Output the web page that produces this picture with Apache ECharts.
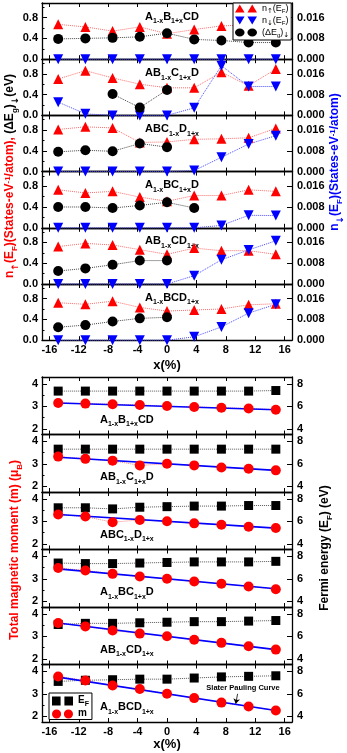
<!DOCTYPE html>
<html>
<head>
<meta charset="utf-8">
<script src="https://cdn.jsdelivr.net/npm/echarts@6/dist/echarts.min.js"></script>
<style>
  html, body { margin: 0; padding: 0; background: #fff; }
  #chart { width: 347px; height: 753px; }
</style>
</head>
<body>
<div id="chart"></div>
<script>
// x positions (%) shared by every panel
const xs = [-14.8, -11.1, -7.4, -3.7, 0, 3.7, 7.4, 11.1, 14.8];
const xTickValues = [-16, -12, -8, -4, 0, 4, 8, 12, 16];

const compounds = [
  '{b|A}{s|1-x}{b|B}{s|1+x}{b|CD}',
  '{b|AB}{s|1-x}{b|C}{s|1+x}{b|D}',
  '{b|ABC}{s|1-x}{b|D}{s|1+x}',
  '{b|A}{s|1-x}{b|BC}{s|1+x}{b|D}',
  '{b|AB}{s|1-x}{b|CD}{s|1+x}',
  '{b|A}{s|1-x}{b|BCD}{s|1+x}'
];

// top block: n_up(EF), n_down(EF), (dEg)_down
const nUp = [
  [0.67, 0.62, 0.54, 0.62, 0.49, 0.57, 0.64, 0.66, 0.68],
  [0.70, 0.86, 0.72, 0.60, 0.53, 0.53, 0.83, 0.57, 0.89],
  [0.81, 0.86, 0.84, 0.56, 0.57, 0.62, 0.63, 0.65, 0.83],
  [0.73, 0.67, 0.70, 0.59, 0.51, 0.62, 0.62, 0.73, 0.70],
  [0.72, 0.78, 0.75, 0.66, 0.57, 0.69, 0.64, 0.64, 0.57],
  [0.72, 0.69, 0.75, 0.63, 0.56, 0.58, 0.60, 0.68, 0.70]
];
const nDown = [
  [0, 0, 0, 0, 0, 0, 0, 0, 0],
  [0.0051, 0.0006, 0, 0, 0, 0.0029, 0.0191, 0.0111, 0.0111],
  [0, 0, 0, 0, 0, 0.0004, 0.0055, 0.0106, 0.0138],
  [0, 0, 0, 0, 0, 0, 0.0009, 0.0048, 0.0047],
  [0, 0, 0, 0, 0, 0.0032, 0.0093, 0.0131, 0.0166],
  [0, 0, 0, 0, 0, 0.0013, 0.0051, 0.0104, 0.0138]
];
const gapDown = [
  [0.39, 0.40, 0.41, 0.43, 0.50, 0.38, 0.36, 0.32, 0.32],
  [null, null, 0.41, 0.15, 0.49, null, null, null, null],
  [0.38, 0.41, 0.39, 0.54, 0.47, null, null, null, null],
  [0.40, 0.40, 0.38, 0.43, 0.49, 0.38, null, null, null],
  [0.25, 0.30, 0.37, 0.45, 0.45, null, null, null, null],
  [0.25, 0.29, 0.36, 0.42, 0.44, null, null, null, null]
];

// bottom block: Fermi energy (eV), total moment (muB), Slater-Pauling ends
const fermi = [
  [7.35, 7.35, 7.35, 7.35, 7.35, 7.35, 7.35, 7.35, 7.4],
  [7.3, 7.3, 7.3, 7.3, 7.3, 7.3, 7.3, 7.3, 7.3],
  [7.2, 7.2, 7.1, 7.25, 7.3, 7.35, 7.35, 7.4, 7.4],
  [7.4, 7.35, 7.35, 7.4, 7.45, 7.5, 7.5, 7.5, 7.55],
  [7.05, 7.15, 7.15, 7.2, 7.25, 7.3, 7.3, 7.35, 7.4],
  [7.1, 7.2, 7.25, 7.3, 7.3, 7.4, 7.5, 7.55, 7.6]
];
const moment = [
  [3.15, 3.12, 3.09, 3.06, 3.01, 2.97, 2.94, 2.90, 2.85],
  [3.32, 3.22, 3.14, 2.93, 3.00, 2.93, 2.84, 2.78, 2.71],
  [3.30, 3.21, 2.96, 3.06, 3.00, 2.91, 2.85, 2.76, 2.70],
  [3.48, 3.37, 3.22, 3.10, 3.00, 2.88, 2.78, 2.66, 2.54],
  [3.59, 3.44, 3.26, 3.12, 3.00, 2.85, 2.71, 2.56, 2.41],
  [3.77, 3.59, 3.37, 3.21, 3.00, 2.81, 2.61, 2.44, 2.26]
];
const slater = [
  [3.15, 2.85], [3.29, 2.71], [3.30, 2.70],
  [3.44, 2.56], [3.59, 2.41], [3.74, 2.26]
];
const slaterArrow = [[9.6, 3.0], [9.35, 2.56]];

const leftTopLabels = [0, 0.4, 0.8];
const leftTopMinor = [0.2, 0.6, 1.0];
const rightTopLabels = [0, 0.008, 0.016];
const leftBotLabels = [2, 3, 4];
const leftBotMinor = [2.5, 3.5];
const rightBotLabels = [4, 6, 8];

const FONT = '"Liberation Sans", Arial, sans-serif';
const ARROW_FONT = '"DejaVu Sans", sans-serif';
const PL = 42, PW = 250;
const TOP0 = 3, TOPH = 56.2, BOT0 = 377, BOTH = 57.5;

const grids = [], xAxes = [], yAxes = [], series = [];
const tickText = { fontFamily: FONT, fontSize: 11, fontWeight: 'bold', color: '#000' };
const border = { show: true, onZero: false, lineStyle: { color: '#000', width: 1.3 } };

function addGrid(top, height, y, last, nameGap) {
  const g = grids.length;
  grids.push({ left: PL, width: PW, top: top, height: height });
  const xBase = {
    type: 'value', gridIndex: g, min: -17, max: 17,
    axisLine: border, splitLine: { show: false },
    axisTick: { show: true, inside: true, length: 4, customValues: xTickValues, lineStyle: { color: '#000' } }
  };
  xAxes.push(Object.assign({}, xBase, {
    position: 'bottom',
    axisLabel: Object.assign({ show: last, customValues: xTickValues, margin: 4 }, tickText),
    name: last ? 'x(%)' : '', nameLocation: 'middle', nameGap: nameGap,
    nameTextStyle: { fontFamily: FONT, fontSize: 13, fontWeight: 'bold', color: '#000' }
  }));
  xAxes.push(Object.assign({}, xBase, { position: 'top', axisLabel: { show: false } }));

  yAxes.push({
    type: 'value', gridIndex: g, position: 'left', min: y.lmin, max: y.lmax,
    axisLine: border, splitLine: { show: false },
    axisTick: { show: true, inside: true, length: 5, customValues: y.lLab, lineStyle: { color: '#000' } },
    axisLabel: Object.assign({ customValues: y.lLab, margin: 4, formatter: y.lFmt }, tickText)
  });
  yAxes.push({
    type: 'value', gridIndex: g, position: 'right', min: y.rmin, max: y.rmax,
    axisLine: border, splitLine: { show: false },
    axisTick: { show: true, inside: true, length: 5, customValues: y.rLab, lineStyle: { color: '#000' } },
    axisLabel: Object.assign({ customValues: y.rLab, margin: 5, formatter: y.rFmt }, tickText)
  });
  yAxes.push({
    type: 'value', gridIndex: g, position: 'left', min: y.lmin, max: y.lmax,
    axisLine: { show: false, onZero: false }, splitLine: { show: false }, axisLabel: { show: false },
    axisTick: { show: true, inside: true, length: 2.5, customValues: y.lMinor, lineStyle: { color: '#000' } }
  });
  return g;
}

function pts(vals) {
  return xs.map((x, j) => [x, vals[j]]).filter(p => p[1] != null);
}

const topY = {
  lmin: 0, lmax: 1.08, rmin: 0, rmax: 0.0216,
  lLab: leftTopLabels, lMinor: leftTopMinor, rLab: rightTopLabels,
  lFmt: v => v.toFixed(1), rFmt: v => v.toFixed(3)
};
const botY = {
  lmin: 1.75, lmax: 4.3, rmin: 3.5, rmax: 8.6,
  lLab: leftBotLabels, lMinor: leftBotMinor, rLab: rightBotLabels,
  lFmt: v => String(v), rFmt: v => String(v)
};

for (let i = 0; i < 6; i++) {
  const g = addGrid(TOP0 + i * TOPH, TOPH, topY, i === 5, 19);
  series.push({
    name: 'nUp', type: 'line', xAxisIndex: 2 * g, yAxisIndex: 3 * g, data: pts(nUp[i]),
    symbol: 'triangle', symbolSize: 10, clip: false, silent: true,
    itemStyle: { color: '#ff0000' }, lineStyle: { color: '#ff6a6a', width: 1, type: 'dotted' }
  });
  series.push({
    name: 'nDown', type: 'line', xAxisIndex: 2 * g, yAxisIndex: 3 * g + 1, data: pts(nDown[i]),
    symbol: 'triangle', symbolRotate: 180, symbolSize: 10, clip: false, silent: true,
    itemStyle: { color: '#0000ff' }, lineStyle: { color: '#4a4aff', width: 1, type: 'dotted' }
  });
  series.push({
    name: 'gap', type: 'line', xAxisIndex: 2 * g, yAxisIndex: 3 * g, data: pts(gapDown[i]),
    symbol: 'circle', symbolSize: 10, clip: false, silent: true,
    itemStyle: { color: '#000' }, lineStyle: { color: '#444', width: 1, type: 'dotted' }
  });
}

for (let k = 0; k < 6; k++) {
  const g = addGrid(BOT0 + k * BOTH, BOTH, botY, k === 5, 16);
  series.push({
    name: 'EF', type: 'line', xAxisIndex: 2 * g, yAxisIndex: 3 * g + 1, data: pts(fermi[k]),
    symbol: 'rect', symbolSize: 9, clip: false, silent: true,
    itemStyle: { color: '#000' }, lineStyle: { color: '#555', width: 1, type: 'dotted' }
  });
  series.push({
    name: 'm', type: 'line', xAxisIndex: 2 * g, yAxisIndex: 3 * g, data: pts(moment[k]),
    symbol: 'circle', symbolSize: 10, clip: false, silent: true,
    itemStyle: { color: '#ff0000' }, lineStyle: { color: '#ff8080', width: 1, type: 'dotted' }
  });
  const sp = {
    name: 'Slater', type: 'line', xAxisIndex: 2 * g, yAxisIndex: 3 * g, silent: true,
    data: [[xs[0], slater[k][0]], [xs[xs.length - 1], slater[k][1]]],
    symbol: 'none', lineStyle: { color: '#0000ff', width: 1.6 }, z: 3
  };
  if (k === 5) {
    sp.markLine = {
      silent: true, symbol: ['none', 'arrow'], symbolSize: 5, label: { show: false },
      lineStyle: { color: '#000', type: 'solid', width: 0.8 },
      data: [[{ coord: slaterArrow[0] }, { coord: slaterArrow[1] }]]
    };
  }
  series.push(sp);
}

// rich text styles: b = normal, s = subscript, a = subscript arrow, p = superscript
function richSet(color, big, small, weight, lh, pad) {
  const w = weight || 'bold';
  const line = lh || big + 2;
  const drop = pad == null ? Math.round(big * 0.6) : pad;
  return {
    b: { fontFamily: FONT, fontSize: big, fontWeight: w, fill: color, color: color, lineHeight: line, verticalAlign: 'top' },
    s: { fontFamily: FONT, fontSize: small, fontWeight: w, fill: color, color: color, lineHeight: small, padding: [drop, 0, 0, 0], verticalAlign: 'top' },
    a: { fontFamily: ARROW_FONT, fontSize: small + 1, fontWeight: w, fill: color, color: color, lineHeight: small, padding: [drop, 0, 0, 0], verticalAlign: 'top' },
    p: { fontFamily: FONT, fontSize: small, fontWeight: w, fill: color, color: color, lineHeight: small, verticalAlign: 'top' }
  };
}

const elements = [];
for (let i = 0; i < 6; i++) {
  elements.push({
    type: 'text', x: 172, y: TOP0 + i * TOPH + 14.5, silent: true,
    style: { text: compounds[i], rich: richSet('#000', 11, 7), align: 'center', verticalAlign: 'middle' }
  });
  elements.push({
    type: 'text', x: 100, y: BOT0 + i * BOTH + 43.5, silent: true,
    style: { text: compounds[i], rich: richSet('#000', 11, 7), align: 'left', verticalAlign: 'middle' }
  });
}

const blackTitle = richSet('#000', 12, 8);
const titleRich = Object.assign({}, richSet('#ff0000', 12, 8), { k: blackTitle.b, ks: blackTitle.s, ka: blackTitle.a });
elements.push({
  type: 'text', x: 11, y: 176, rotation: Math.PI / 2, silent: true,
  style: {
    text: '{b|n}{a|↑}{b|(E}{s|F}{b|)(States-eV}{p|-1}{b|/atom), }{k|(ΔE}{ks|g}{k|)}{ka|↓}{k|(eV)}',
    rich: titleRich, align: 'center', verticalAlign: 'middle'
  }
});
elements.push({
  type: 'text', x: 336, y: 162, rotation: Math.PI / 2, silent: true,
  style: {
    text: '{b|n}{a|↓}{b|(E}{s|F}{b|)(States-eV}{p|-1}{b|/atom)}',
    rich: richSet('#0000ff', 12, 8), align: 'center', verticalAlign: 'middle'
  }
});
elements.push({
  type: 'text', x: 16, y: 550, rotation: Math.PI / 2, silent: true,
  style: {
    text: '{b|Total magnetic moment (m) (μ}{s|B}{b|)}',
    rich: richSet('#ff0000', 12, 8), align: 'center', verticalAlign: 'middle'
  }
});
elements.push({
  type: 'text', x: 326, y: 548, rotation: Math.PI / 2, silent: true,
  style: {
    text: '{b|Fermi energy (E}{s|F}{b|) (eV)}',
    rich: richSet('#000', 12, 8), align: 'center', verticalAlign: 'middle'
  }
});
elements.push({
  type: 'text', x: 243, y: 688, silent: true,
  style: {
    text: 'Slater Pauling Curve', fill: '#000', align: 'center', verticalAlign: 'middle',
    font: 'bold 7.5px ' + FONT
  }
});

const legendTopText = {
  nUp: '{b|n}{a|↑}{b|(E}{s|F}{b|)}',
  nDown: '{b|n}{a|↓}{b|(E}{s|F}{b|)}',
  gap: '{b|(ΔE}{s|g}{b|)}{a|↓}'
};
const legendBotText = { EF: '{b|E}{s|F}', m: '{b|m}' };

let option = {
  animation: false,
  grid: grids,
  xAxis: xAxes,
  yAxis: yAxes,
  legend: [
    {
      left: 233, top: 3, orient: 'vertical', selectedMode: false,
      itemWidth: 22, itemHeight: 8, itemGap: 1, padding: [1, 2, 1, 2],
      borderColor: '#000', borderWidth: 1, backgroundColor: '#fff', symbolKeepAspect: false,
      data: [
        { name: 'nUp', icon: 'path://M0,10L5,0L10,10Z M13,10L18,0L23,10Z' },
        { name: 'nDown', icon: 'path://M0,0L10,0L5,10Z M13,0L23,0L18,10Z' },
        { name: 'gap', icon: 'path://M0,5a5,5 0 1,0 10,0a5,5 0 1,0 -10,0Z M13,5a5,5 0 1,0 10,0a5,5 0 1,0 -10,0Z' }
      ],
      formatter: n => legendTopText[n],
      textStyle: { rich: richSet('#000', 9, 6, 'normal', 9, 4) }
    },
    {
      left: 49, top: 693, orient: 'vertical', selectedMode: false,
      itemWidth: 21, itemHeight: 9, itemGap: 0, padding: [2, 3, 1, 3],
      borderColor: '#000', borderWidth: 1, backgroundColor: '#fff', symbolKeepAspect: false,
      data: [
        { name: 'EF', icon: 'path://M0,0h9v9h-9Z M13,0h9v9h-9Z' },
        { name: 'm', icon: 'path://M0,5a5,5 0 1,0 10,0a5,5 0 1,0 -10,0Z M13,5a5,5 0 1,0 10,0a5,5 0 1,0 -10,0Z' }
      ],
      formatter: n => legendBotText[n],
      textStyle: { rich: richSet('#000', 10, 7) }
    }
  ],
  graphic: { elements: elements },
  series: series
};

let myChart = echarts.init(document.getElementById('chart'));
option && myChart.setOption(option);
</script>
</body>
</html>
